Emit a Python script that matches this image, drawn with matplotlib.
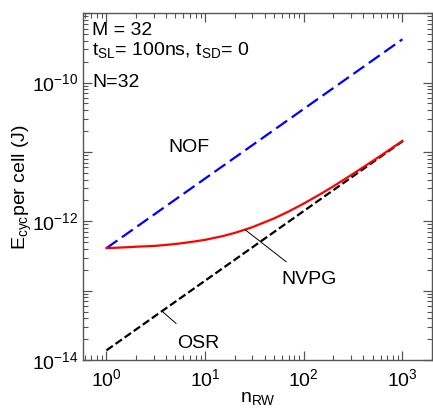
import matplotlib
matplotlib.use('Agg')
import matplotlib.pyplot as plt
from matplotlib.ticker import LogLocator, NullFormatter, FixedLocator, FixedFormatter

plt.rcParams['font.family'] = ['Liberation Sans', 'DejaVu Sans']
plt.rcParams['mathtext.default'] = 'regular'

# values
n_nof = [1, 1000]
e_nof = [4.1e-13, 4.2e-10]

n_osr = [1, 1000]
e_osr = [1.38e-14, 1.42e-11]

n_nvpg = [1, 1.5, 2, 3, 5, 7, 10, 15, 20, 30, 50, 70, 100, 150, 200, 300,
          500, 700, 1000]
e_nvpg = [4.1e-13, 4.2e-13, 4.3e-13, 4.4e-13, 4.7e-13, 5.0e-13, 5.4e-13,
          6.1e-13, 6.8e-13, 8.2e-13, 1.1e-12, 1.38e-12, 1.8e-12, 2.5e-12,
          3.2e-12, 4.6e-12, 7.4e-12, 1.02e-11, 1.44e-11]

y_ticks = [1e-14, 1e-13, 1e-12, 1e-11, 1e-10, 1e-9]
y_tick_labels = [r'$10^{-14}$', '', r'$10^{-12}$', '', r'$10^{-10}$', '']

fig = plt.figure(figsize=(4.33, 4.11), dpi=100)
ax = fig.add_axes([0.192, 0.124, 0.806, 0.844])

ax.plot(n_nof, e_nof, color='#0000ff', lw=1.6, dashes=(6, 2.5))
ax.plot(n_osr, e_osr, color='black', lw=1.6, dashes=(3.5, 1.5))
ax.plot(n_nvpg, e_nvpg, color='#ff0000', lw=1.6)

ax.set_xscale('log')
ax.set_yscale('log')
ax.set_xlim(0.58, 2000)
ax.set_ylim(1e-14, 1e-9)

ax.yaxis.set_major_locator(FixedLocator(y_ticks))
ax.yaxis.set_major_formatter(FixedFormatter(y_tick_labels))
ax.yaxis.set_minor_locator(LogLocator(base=10, subs=range(2, 10), numticks=20))
ax.yaxis.set_minor_formatter(NullFormatter())
ax.xaxis.set_minor_locator(LogLocator(base=10, subs=range(2, 10), numticks=20))
ax.xaxis.set_minor_formatter(NullFormatter())

ax.tick_params(which='both', direction='in', top=True, right=True,
               color='#555555', labelsize=14)
ax.tick_params(which='major', length=6.5, width=0.9)
ax.tick_params(which='minor', length=3.5, width=0.8)
ax.tick_params(axis='x', pad=6)
for s in ax.spines.values():
    s.set_color('#555555')
    s.set_linewidth(1.0)

ax.set_xlabel(r'$n_{RW}$', fontsize=14, labelpad=0)
ax.set_ylabel(r'$E_{cyc}$per cell (J)', fontsize=14, labelpad=-2)

ax.text(0.026, 0.951, 'M = 32', transform=ax.transAxes, fontsize=14, va='center')
ax.text(0.026, 0.893, r'$t_{SL}$= 100ns, $t_{SD}$= 0', transform=ax.transAxes,
        fontsize=14, va='center')
ax.text(0.026, 0.801, 'N=32', transform=ax.transAxes, fontsize=14, va='center')

ax.text(6.8, 1.17e-11, 'NOF', fontsize=14, ha='center', va='center')
ax.annotate('NVPG', xy=(25.6, 7.5e-13), xytext=(114, 1.43e-13), fontsize=14,
            ha='center', va='center',
            arrowprops=dict(arrowstyle='-', color='black', lw=0.7,
                            shrinkA=8, shrinkB=0))
ax.annotate('OSR', xy=(3.69, 5.0e-14), xytext=(8.55, 1.76e-14), fontsize=14,
            ha='center', va='center',
            arrowprops=dict(arrowstyle='-', color='black', lw=0.7,
                            shrinkA=9, shrinkB=0))

fig.savefig('out.png', dpi=100)
